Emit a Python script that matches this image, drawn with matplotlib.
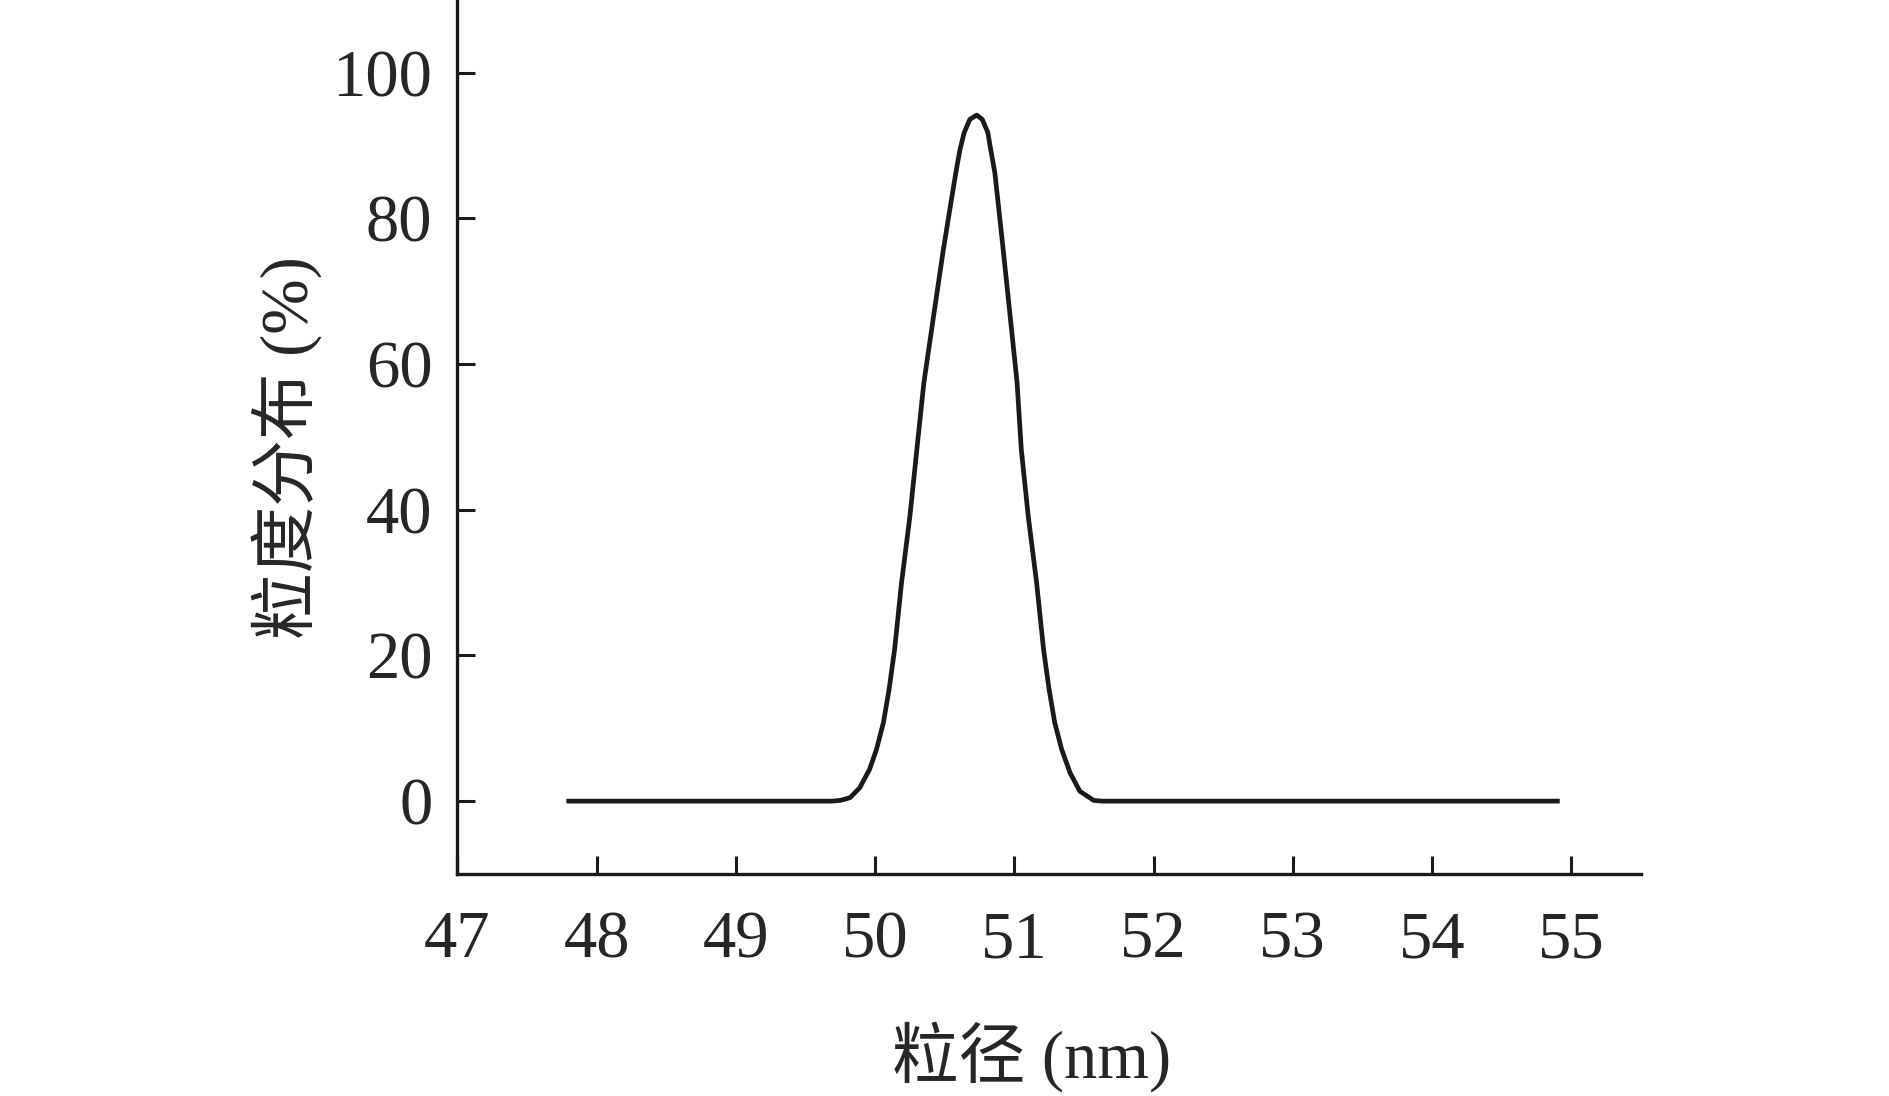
import numpy as np
import matplotlib.pyplot as plt

# particle size (nm) and distribution (%)
size_nm = [47.80, 49.69, 49.75, 49.82, 49.89, 49.96, 50.01, 50.06, 50.10,
           50.14, 50.19, 50.25, 50.30, 50.35, 50.42, 50.49, 50.55, 50.58,
           50.61, 50.64, 50.68, 50.73, 50.77, 50.81, 50.83, 50.86, 50.88,
           50.92, 50.97, 51.02, 51.05, 51.10, 51.16, 51.21, 51.25, 51.29,
           51.34, 51.40, 51.47, 51.57, 51.63, 54.90]
dist_pct = [0.0, 0.0, 0.1, 0.47, 1.84, 4.35, 7.1, 10.8, 15.3,
            20.8, 30.0, 39.1, 48.3, 57.4, 66.6, 75.7, 82.8, 86.3,
            89.5, 91.8, 93.6, 94.2, 93.6, 91.8, 89.5, 86.3, 82.8,
            75.7, 66.6, 57.4, 48.3, 39.1, 30.0, 20.8, 15.3, 10.8,
            7.1, 3.9, 1.37, 0.1, 0.0, 0.0]

x_ticks = [47, 48, 49, 50, 51, 52, 53, 54, 55]
y_ticks = [0, 20, 40, 60, 80, 100]

plt.rcParams['font.family'] = ['Liberation Serif', 'Noto Sans CJK SC']
ink = '#1a1a1a'
text_col = '#262626'

fig = plt.figure(figsize=(18.9, 10.96), dpi=100)
ax = fig.add_axes([0.242, 0.2026, 0.6262, 0.7974])

ax.plot(size_nm, dist_pct, color=ink, lw=3.4, solid_joinstyle='round')

ax.set_xlim(47, 55.5)
ax.set_ylim(-10, 110)
ax.set_xticks(x_ticks)
ax.set_yticks(y_ticks)

for s in ['top', 'right']:
    ax.spines[s].set_visible(False)
for s in ['left', 'bottom']:
    ax.spines[s].set_linewidth(2.4)
    ax.spines[s].set_color(ink)

ax.tick_params(direction='in', length=13, width=2.2, color=ink,
               labelsize=48, labelcolor=text_col)
ax.tick_params(axis='x', pad=26)
ax.tick_params(axis='y', pad=18)

ax.set_xlabel('粒径 (nm)', fontsize=48, color=text_col, labelpad=36)
ax.set_ylabel('粒度分布 (%)', fontsize=48, color=text_col, labelpad=7)
# labels sit a little off-centre in the original
ax.xaxis.label.set_x(0.485)
ax.yaxis.label.set_y(0.4875)

fig.savefig('out.png', dpi=100)
